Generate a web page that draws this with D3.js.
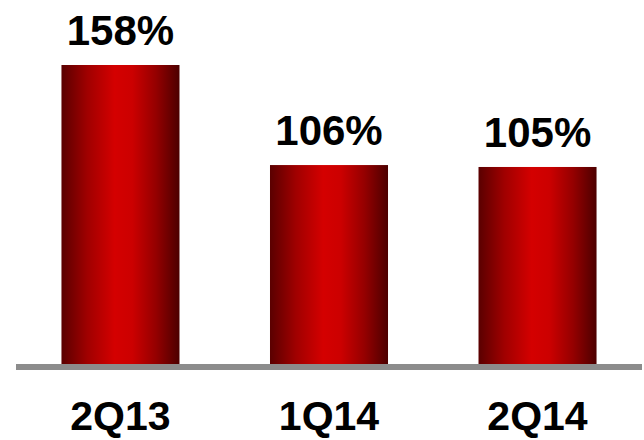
<!DOCTYPE html>
<html><head><meta charset="utf-8">
<script src="https://cdn.jsdelivr.net/npm/d3@7"></script>
<style>html,body{margin:0;padding:0;background:#fff;}svg{display:block;}</style>
</head><body>
<svg id="c" width="644" height="440"></svg>
<script>
const categories = ["2Q13", "1Q14", "2Q14"];
const values = [158, 106, 105];
const valueLabels = ["158%", "106%", "105%"];

const svg = d3.select("#c");
const font = "'Liberation Sans', Arial, sans-serif";

const x = d3.scaleBand().domain(categories).range([16, 642]).paddingInner(0.434).paddingOuter(0.218);
const y = d3.scaleLinear().domain([0, 158]).range([369, 65]);

const defs = svg.append("defs");
const g = defs.append("linearGradient").attr("id", "barGrad").attr("x1", "0%").attr("x2", "100%").attr("y1", "0%").attr("y2", "0%");
[[0, "#5a0000"], [0.22, "#a00000"], [0.45, "#d40000"], [0.6, "#cc0000"], [0.8, "#950000"], [1, "#4c0000"]]
  .forEach(([o, c]) => g.append("stop").attr("offset", o).attr("stop-color", c));

svg.selectAll("rect.bar").data(values).enter().append("rect")
  .attr("class", "bar")
  .attr("x", (d, i) => x(categories[i]))
  .attr("width", x.bandwidth())
  .attr("y", d => y(d))
  .attr("height", d => y(0) - y(d))
  .attr("fill", "url(#barGrad)");

svg.append("rect").attr("x", 16).attr("y", 364).attr("width", 626).attr("height", 6).attr("fill", "#8c8c8c");

svg.selectAll("text.val").data(values).enter().append("text")
  .attr("class", "val")
  .attr("x", (d, i) => x(categories[i]) + x.bandwidth() / 2)
  .attr("y", d => y(d) - 20)
  .attr("text-anchor", "middle")
  .attr("font-family", font).attr("font-weight", "bold").attr("font-size", 42)
  .attr("fill", "#000")
  .text((d, i) => valueLabels[i]);

svg.selectAll("text.cat").data(categories).enter().append("text")
  .attr("class", "cat")
  .attr("x", d => x(d) + x.bandwidth() / 2)
  .attr("y", 430)
  .attr("text-anchor", "middle")
  .attr("font-family", font).attr("font-weight", "bold").attr("font-size", 41)
  .attr("fill", "#000")
  .text(d => d);
</script>
</body></html>
